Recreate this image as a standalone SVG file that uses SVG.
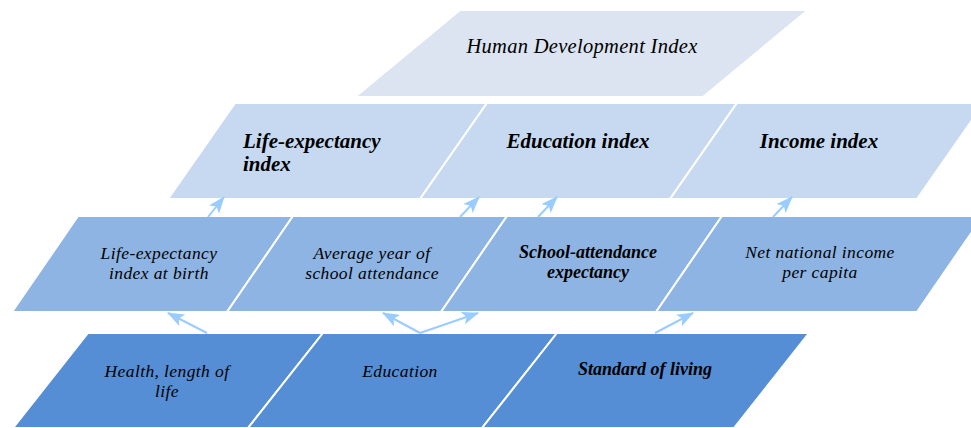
<svg xmlns="http://www.w3.org/2000/svg" width="971" height="428" viewBox="0 0 971 428">
<style>
.t{font-family:"Liberation Serif","Times New Roman",serif;font-style:italic;fill:#000}
.b{font-weight:bold}
.s0{fill:#DBE4F0;stroke:#fff;stroke-width:2}
.s1{fill:#C6D9F1;stroke:#fff;stroke-width:2}
.s2{fill:#8EB4E3;stroke:#fff;stroke-width:2}
.s3{fill:#558ED5;stroke:#fff;stroke-width:2}
.a{stroke:#99CCFF;stroke-width:2;fill:none;marker-end:url(#ah)}
</style>
<defs>
<marker id="ah" markerUnits="userSpaceOnUse" viewBox="0 0 17 13" refX="16" refY="6.5" markerWidth="17" markerHeight="13" orient="auto">
<path d="M0,0 L17,6.5 L0,13 L4,6.5 Z" fill="#99CCFF"/>
</marker>
</defs>
<rect width="971" height="428" fill="#fff"/>
<g id="hdi">
<polygon class="s0" points="460,10 808,10 703,97 355,97"/>
<text class="t" x="582" y="53" font-size="20.5" text-anchor="middle" letter-spacing="0.3">Human Development Index</text>
</g>
<g id="life-index">
<polygon class="s1" points="235,103 487,103 420,199 168,199"/>
<text class="t b" x="243" y="148" font-size="21">Life-expectancy</text>
<text class="t b" x="243" y="171" font-size="21">index</text>
</g>
<g id="edu-index">
<polygon class="s1" points="487,103 737,103 670,199 420,199"/>
<text class="t b" x="578" y="148" font-size="21" text-anchor="middle">Education index</text>
</g>
<g id="income-index">
<polygon class="s1" points="737,103 984,103 917,199 670,199"/>
<text class="t b" x="819" y="148" font-size="21" text-anchor="middle">Income index</text>
</g>
<g id="life-birth">
<polygon class="s2" points="78,216 293,216 227,312 12,312"/>
<text class="t" x="159" y="259" font-size="17.5" text-anchor="middle" letter-spacing="0.4">Life-expectancy</text>
<text class="t" x="159" y="279" font-size="17.5" text-anchor="middle" letter-spacing="0.4">index at birth</text>
</g>
<g id="avg-school">
<polygon class="s2" points="293,216 507,216 441,312 227,312"/>
<text class="t" x="372" y="259" font-size="17.5" text-anchor="middle" letter-spacing="0.4">Average year of</text>
<text class="t" x="372" y="279" font-size="17.5" text-anchor="middle" letter-spacing="0.4">school attendance</text>
</g>
<g id="school-exp">
<polygon class="s2" points="507,216 722,216 656,312 441,312"/>
<text class="t b" x="588" y="258" font-size="18" text-anchor="middle">School-attendance</text>
<text class="t b" x="588" y="278" font-size="18" text-anchor="middle">expectancy</text>
</g>
<g id="nni">
<polygon class="s2" points="722,216 983,216 917,312 656,312"/>
<text class="t" x="820" y="258" font-size="17.5" text-anchor="middle" letter-spacing="0.4">Net national income</text>
<text class="t" x="820" y="278" font-size="17.5" text-anchor="middle" letter-spacing="0.4">per capita</text>
</g>
<g id="health">
<polygon class="s3" points="88,333 323,333 248,428 13,428"/>
<text class="t" x="167" y="377" font-size="17.5" text-anchor="middle" letter-spacing="0.4">Health, length of</text>
<text class="t" x="167" y="397" font-size="17.5" text-anchor="middle" letter-spacing="0.4">life</text>
</g>
<g id="education">
<polygon class="s3" points="323,333 557,333 482,428 248,428"/>
<text class="t" x="400" y="377" font-size="17.5" text-anchor="middle" letter-spacing="0.4">Education</text>
</g>
<g id="living">
<polygon class="s3" points="557,333 809,333 734,428 482,428"/>
<text class="t b" x="645" y="375" font-size="18" text-anchor="middle">Standard of living</text>
</g>
<g id="connectors">
<line class="a" x1="207" y1="333" x2="168" y2="313"/>
<line class="a" x1="420" y1="333" x2="383" y2="313"/>
<line class="a" x1="420" y1="333" x2="478" y2="313"/>
<line class="a" x1="655" y1="333" x2="693" y2="313"/>
<line class="a" x1="208" y1="217" x2="224" y2="197"/>
<line class="a" x1="460" y1="217" x2="479" y2="197"/>
<line class="a" x1="538" y1="217" x2="557" y2="197"/>
<line class="a" x1="773" y1="217" x2="792" y2="197"/>
</g>
</svg>
